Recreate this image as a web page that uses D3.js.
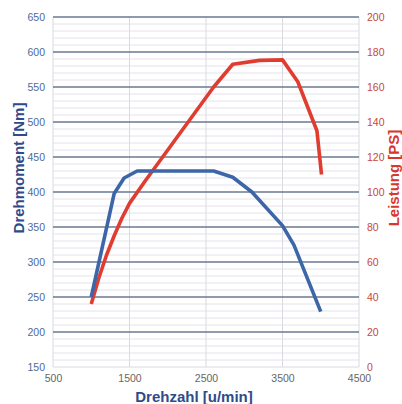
<!DOCTYPE html>
<html><head><meta charset="utf-8">
<script src="https://cdn.jsdelivr.net/npm/d3@7"></script>
<style>body{margin:0;background:#fff}svg{display:block}</style>
</head><body><svg id="c" width="402" height="404"></svg>
<script>
const xTicks = [500, 1500, 2500, 3500, 4500];
const leftTicks = [150,200,250,300,350,400,450,500,550,600,650];
const rightTicks = [0,20,40,60,80,100,120,140,160,180,200];
const torqueRpm = [1000,1300,1430,1600,2600,2850,3100,3500,3650,4000];
const torqueNm  = [250, 398, 420, 430, 430, 421, 400, 352, 324, 229];
const powerRpm = [1000,1100,1200,1300,1400,1500,1700,1900,2600,2850,3200,3500,3700,3950,4010];
const powerPS  = [36,  51,  64,  75,  85,  93.5,106, 118, 160, 173, 175.2,175.5,163,135,110];

const svg = d3.select("#c");
const L=53,R=359,T=17,B=367;
const x = d3.scaleLinear().domain([500,4500]).range([L,R]);
const yL = d3.scaleLinear().domain([150,650]).range([B,T]);
const yR = d3.scaleLinear().domain([0,200]).range([B,T]);
const font="Liberation Sans, Arial, sans-serif";

const minor = d3.range(160,650,10).filter(v=>v%50!==0);
svg.append("g").selectAll("line").data(minor).join("line")
  .attr("x1",L).attr("x2",R).attr("y1",d=>yL(d)).attr("y2",d=>yL(d))
  .attr("stroke","#e4e4ec").attr("stroke-width",1);
svg.append("g").selectAll("line").data(xTicks).join("line")
  .attr("x1",d=>x(d)).attr("x2",d=>x(d)).attr("y1",T).attr("y2",B)
  .attr("stroke","#d9dae2").attr("stroke-width",1);
svg.append("line").attr("x1",L).attr("x2",R).attr("y1",B).attr("y2",B).attr("stroke","#d9dae2");
svg.append("g").selectAll("line").data(leftTicks.filter(v=>v>150)).join("line")
  .attr("x1",L).attr("x2",R).attr("y1",d=>yL(d)).attr("y2",d=>yL(d))
  .attr("stroke","#6a7894").attr("stroke-width",1.3);

const ax = svg.append("g").attr("transform",`translate(${L-6},0)`)
  .call(d3.axisLeft(yL).tickValues(leftTicks).tickSize(0).tickPadding(2));
ax.select(".domain").remove();
ax.selectAll("text").attr("fill","#4d6a9c").attr("font-size",10.5).attr("font-family",font);
const ar = svg.append("g").attr("transform",`translate(${R+6},0)`)
  .call(d3.axisRight(yR).tickValues(rightTicks).tickSize(0).tickPadding(2));
ar.select(".domain").remove();
ar.selectAll("text").attr("fill","#c8483c").attr("font-size",10.5).attr("font-family",font);
const axb = svg.append("g").attr("transform",`translate(0,${B+6})`)
  .call(d3.axisBottom(x).tickValues(xTicks).tickSize(0).tickPadding(2).tickFormat(d3.format("d")));
axb.select(".domain").remove();
axb.selectAll("text").attr("fill","#666").attr("font-size",10.5).attr("font-family",font);

const tData = torqueRpm.map((r,i)=>[r,torqueNm[i]]);
const pData = powerRpm.map((r,i)=>[r,powerPS[i]]);
svg.append("path").datum(pData)
  .attr("d",d3.line().x(d=>x(d[0])).y(d=>yR(d[1])))
  .attr("fill","none").attr("stroke","#e03c30").attr("stroke-width",3.6).attr("stroke-linejoin","round");
svg.append("path").datum(tData)
  .attr("d",d3.line().x(d=>x(d[0])).y(d=>yL(d[1])))
  .attr("fill","none").attr("stroke","#3c66a8").attr("stroke-width",3.6).attr("stroke-linejoin","round");

svg.append("text").attr("transform",`translate(24,168) rotate(-90)`).attr("text-anchor","middle")
  .attr("font-family",font).attr("font-weight","bold").attr("font-size",15).attr("fill","#2f4b8c")
  .text("Drehmoment [Nm]");
svg.append("text").attr("transform",`translate(399,178) rotate(-90)`).attr("text-anchor","middle")
  .attr("font-family",font).attr("font-weight","bold").attr("font-size",15).attr("fill","#d8382c")
  .text("Leistung [PS]");
svg.append("text").attr("x",194).attr("y",402).attr("text-anchor","middle")
  .attr("font-family",font).attr("font-weight","bold").attr("font-size",15).attr("fill","#2f4b8c")
  .text("Drehzahl [u/min]");
</script></body></html>
